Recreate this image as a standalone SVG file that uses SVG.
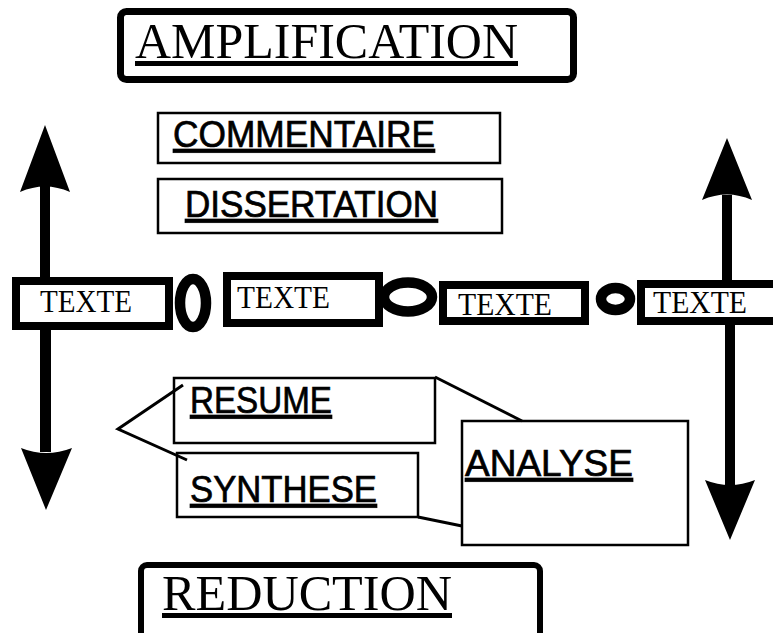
<svg xmlns="http://www.w3.org/2000/svg" width="773" height="633" viewBox="0 0 773 633">
<style>
.thick{fill:#fff;stroke:#000;stroke-width:8}
.thin{fill:#fff;stroke:#000;stroke-width:2.5}
.ring{fill:none;stroke:#000;stroke-width:10.5}
.serif{font-family:"Liberation Serif","Times New Roman",serif;fill:#000}
.sans{font-family:"Liberation Sans",Arial,sans-serif;fill:#000;stroke:#000;stroke-width:0.7;font-size:37px;text-decoration:underline}
.line{fill:none;stroke:#000;stroke-width:3}
.arrow{fill:#000}
</style>
<rect width="773" height="633" fill="#fff"/>
<g id="amplification">
<rect x="120.5" y="11.5" width="453" height="68" rx="6" fill="#fff" stroke="#000" stroke-width="7"/>
<text class="serif" x="135" y="58" font-size="50" textLength="383" lengthAdjust="spacingAndGlyphs" text-decoration="underline">AMPLIFICATION</text>
</g>
<g id="commentaire">
<rect class="thin" x="158" y="113" width="342" height="50"/>
<text class="sans" x="173" y="147" textLength="262" lengthAdjust="spacingAndGlyphs">COMMENTAIRE</text>
</g>
<g id="dissertation">
<rect class="thin" x="158" y="179" width="344" height="54"/>
<text class="sans" x="185" y="217" textLength="253" lengthAdjust="spacingAndGlyphs">DISSERTATION</text>
</g>
<g id="texte1">
<rect class="thick" x="16" y="281" width="153" height="45"/>
<text class="serif" x="40" y="312" font-size="32" textLength="92" lengthAdjust="spacingAndGlyphs">TEXTE</text>
</g>
<g id="ring1"><ellipse class="ring" cx="193" cy="303" rx="13" ry="24"/></g>
<g id="texte2">
<rect class="thick" x="227" y="276" width="152" height="47"/>
<text class="serif" x="237" y="308" font-size="32" textLength="93" lengthAdjust="spacingAndGlyphs">TEXTE</text>
</g>
<g id="ring2"><ellipse class="ring" cx="408" cy="297" rx="24" ry="14.5"/></g>
<g id="texte3">
<rect class="thick" x="443" y="285" width="142" height="36"/>
<text class="serif" x="458" y="315" font-size="32" textLength="94" lengthAdjust="spacingAndGlyphs">TEXTE</text>
</g>
<g id="ring3"><ellipse class="ring" cx="615.5" cy="299" rx="14.5" ry="11"/></g>
<g id="texte4">
<rect class="thick" x="641" y="284" width="150" height="37"/>
<text class="serif" x="653" y="313" font-size="32" textLength="94" lengthAdjust="spacingAndGlyphs">TEXTE</text>
</g>
<g id="resume">
<rect class="thin" x="174" y="378" width="261" height="65"/>
<text class="sans" x="190" y="413" textLength="142" lengthAdjust="spacingAndGlyphs">RESUME</text>
</g>
<g id="synthese">
<rect class="thin" x="177" y="453" width="241" height="64"/>
<text class="sans" x="190" y="502" textLength="187" lengthAdjust="spacingAndGlyphs">SYNTHESE</text>
</g>
<g id="analyse">
<rect class="thin" x="462" y="421" width="226" height="124"/>
<text class="sans" x="465" y="476" textLength="168" lengthAdjust="spacingAndGlyphs">ANALYSE</text>
</g>
<g id="reduction">
<rect x="141" y="565" width="399" height="80" rx="6" fill="#fff" stroke="#000" stroke-width="6"/>
<text class="serif" x="162" y="610" font-size="50" textLength="290" lengthAdjust="spacingAndGlyphs" text-decoration="underline">REDUCTION</text>
</g>
<g id="connectors">
<rect class="arrow" x="40" y="186" width="10" height="91"/>
<path class="arrow" d="M45,125 L70,192 Q45,181 20,192 Z"/>
<rect class="arrow" x="40" y="330" width="11" height="122"/>
<path class="arrow" d="M21,448 Q46,458 72,448 L46,510 Z"/>
<rect class="arrow" x="722" y="195" width="10" height="85"/>
<path class="arrow" d="M727,138 L752,200 Q727,189 702,200 Z"/>
<rect class="arrow" x="725" y="325" width="10" height="160"/>
<path class="arrow" d="M705,480 Q730,490 755,480 L730,540 Z"/>
<polyline class="line" points="183,385 118,429 187,460"/>
<line class="line" x1="435" y1="377" x2="522" y2="421"/>
<line class="line" x1="418" y1="517" x2="462" y2="526"/>
</g>
</svg>
